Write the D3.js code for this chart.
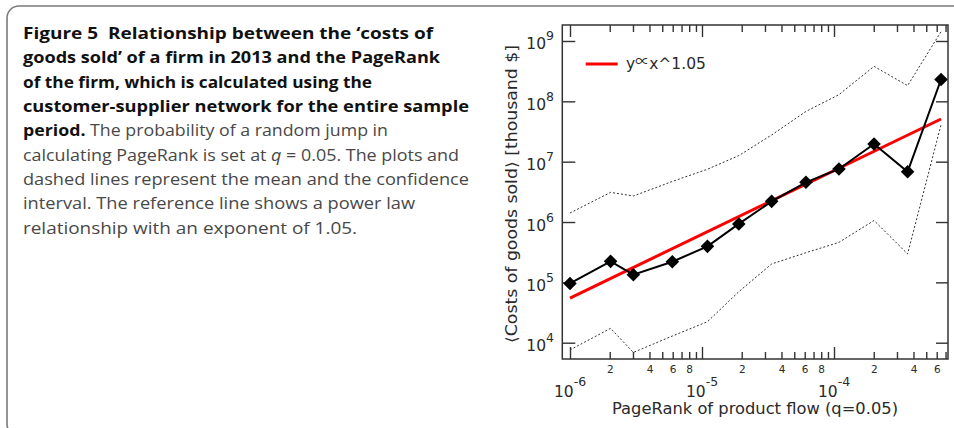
<!DOCTYPE html>
<html>
<head>
<meta charset="utf-8">
<script src="https://cdn.jsdelivr.net/npm/d3@7"></script>
<style>
  html, body { margin: 0; padding: 0; background: #fff; }
  svg { display: block; }
  .cap { font-family: "Open Sans", sans-serif; font-size: 16px; }
  .chart text { font-family: "DejaVu Sans", sans-serif; fill: #2a2a2a; }
</style>
</head>
<body>
<div id="grafico"></div>
<script>
// values
const pageRank = [1.0e-6, 2.03e-6, 3.02e-6, 5.96e-6, 1.1e-5, 1.9e-5, 3.37e-5, 6.13e-5, 1.09e-4, 2.01e-4, 3.61e-4, 6.47e-4];
const meanCost = [0.96e5, 2.23e5, 1.34e5, 2.2e5, 3.95e5, 9.3e5, 2.2e6, 4.55e6, 7.57e6, 1.96e7, 6.8e6, 2.3e8];
const upperCost = [1.41e6, 3.1e6, 2.7e6, 4.7e6, 7.5e6, 1.26e7, 2.77e7, 6.8e7, 1.29e8, 3.8e8, 1.82e8, 1.43e9];
const lowerCost = [7.6e3, 1.73e4, 6.9e3, 1.29e4, 2.23e4, 7.0e4, 2.02e5, 3.1e5, 4.6e5, 1.06e6, 2.96e5, 4.1e7];
const refX = [1.0e-6, 6.47e-4];
const refY = [5.5e4, 5.1e7];
const xDecades = [-6, -5, -4];
const yDecades = [4, 5, 6, 7, 8, 9];
const xMinorLabels = [2, 4, 6, 8];
const legendText = ["y", "\u221D", "x^1.05"];
const xTitle = "PageRank of product flow (q=0.05)";
const yTitle = "\u27E8Costs of goods sold\u27E9 [thousand $]";

const captionLines = [
  [["b", "Figure 5\u00A0 Relationship between the \u2018costs of"]],
  [["b", "goods sold\u2019 of a firm in 2013 and the PageRank"]],
  [["b", "of the firm, which is calculated using the"]],
  [["b", "customer-supplier network for the entire sample"]],
  [["b", "period."], ["r", " The probability of a random jump in"]],
  [["r", "calculating PageRank is set at "], ["i", "q"], ["r", " = 0.05. The plots and"]],
  [["r", "dashed lines represent the mean and the confidence"]],
  [["r", "interval. The reference line shows a power law"]],
  [["r", "relationship with an exponent of 1.05."]]
];
const captionWidths = [410, 417, 349, 446, 365, 436, 446, 392, 334];

const W = 954, H = 428;
const svg = d3.select("#grafico").append("svg").attr("width", W).attr("height", H);

// frame
svg.append("path")
  .attr("d", "M954,6 H19 A12,12 0 0 0 7,18 V424 A12,12 0 0 0 19,436")
  .attr("fill", "none").attr("stroke", "#7a7a7a").attr("stroke-width", 1.6);

// caption
captionLines.forEach((line, i) => {
  const t = svg.append("text").attr("class", "cap")
    .attr("x", 23).attr("y", 39 + i * 24.35)
    .attr("textLength", captionWidths[i]).attr("lengthAdjust", "spacingAndGlyphs");
  line.forEach(([k, s]) => {
    t.append("tspan").text(s)
      .attr("font-weight", k === "b" ? 700 : 400)
      .attr("font-style", k === "i" ? "italic" : "normal")
      .attr("fill", k === "b" ? "#111" : "#484848");
  });
});

// chart
const pLeft = 562.3, pRight = 948, pTop = 25, pBottom = 359;
const x = d3.scaleLog().domain([Math.pow(10, -6.0583), Math.pow(10, -3.1364)]).range([pLeft, pRight]);
const y = d3.scaleLog().domain([Math.pow(10, 3.730), Math.pow(10, 9.265)]).range([pBottom, pTop]);

const g = svg.append("g").attr("class", "chart");

let majorX = xDecades.map(e => Math.pow(10, e));
let minorX = [];
xDecades.forEach(e => { for (let m = 2; m <= 9; m++) { const v = m * Math.pow(10, e); if (v <= x.domain()[1]) minorX.push(v); } });
let majorY = yDecades.map(e => Math.pow(10, e));

const styleAxis = sel => {
  sel.select(".domain").remove();
  sel.selectAll(".tick line").attr("stroke", "#333").attr("stroke-width", 1.4);
};

// bottom
g.append("g").attr("transform", `translate(0,${pBottom})`)
  .call(d3.axisBottom(x).tickValues(minorX).tickSize(-7).tickPadding(7)
    .tickFormat(d => { const m = Math.round(d / Math.pow(10, Math.floor(Math.log10(d) + 1e-9))); return xMinorLabels.includes(m) ? m : ""; }))
  .call(styleAxis)
  .call(s => s.selectAll("text").attr("font-size", 10.5).attr("fill", "#2a2a2a").attr("font-family", "DejaVu Sans"));
g.append("g").attr("transform", `translate(0,${pBottom})`)
  .call(d3.axisBottom(x).tickValues(majorX).tickSize(-12).tickFormat(""))
  .call(styleAxis);
// top
g.append("g").attr("transform", `translate(0,${pTop})`)
  .call(d3.axisTop(x).tickValues(minorX).tickSize(-7).tickFormat(""))
  .call(styleAxis);
g.append("g").attr("transform", `translate(0,${pTop})`)
  .call(d3.axisTop(x).tickValues(majorX).tickSize(-12).tickFormat(""))
  .call(styleAxis);
// left / right
g.append("g").attr("transform", `translate(${pLeft},0)`)
  .call(d3.axisLeft(y).tickValues(majorY).tickSize(-13).tickFormat(""))
  .call(styleAxis);
g.append("g").attr("transform", `translate(${pRight},0)`)
  .call(d3.axisRight(y).tickValues(majorY).tickSize(-12).tickFormat(""))
  .call(styleAxis);

// frame of plot
g.append("rect").attr("x", pLeft).attr("y", pTop).attr("width", pRight - pLeft).attr("height", pBottom - pTop)
  .attr("fill", "none").attr("stroke", "#333").attr("stroke-width", 1.5);

// major labels
xDecades.forEach(e => {
  const t = g.append("text").attr("x", x(Math.pow(10, e))).attr("y", 396.5)
    .attr("text-anchor", "middle").attr("font-size", 15.5);
  t.append("tspan").text("10");
  t.append("tspan").text("-" + Math.abs(e)).attr("font-size", 12.5).attr("dy", -10.5);
});
yDecades.forEach(e => {
  const t = g.append("text").attr("x", 554).attr("y", y(Math.pow(10, e)) + 8.5)
    .attr("text-anchor", "end").attr("font-size", 15.5);
  t.append("tspan").text("10");
  t.append("tspan").text(e).attr("font-size", 12.5).attr("dy", -9);
});

// axis titles
g.append("text").attr("x", 755).attr("y", 414).attr("text-anchor", "middle")
  .attr("font-size", 15.5).attr("textLength", 286).attr("lengthAdjust", "spacingAndGlyphs").text(xTitle);
g.append("text").attr("transform", "translate(516.5,194) rotate(-90)").attr("text-anchor", "middle")
  .attr("font-size", 15.5).attr("textLength", 298).attr("lengthAdjust", "spacingAndGlyphs").text(yTitle);

// dotted confidence lines
const line = d3.line().x(d => x(d[0])).y(d => y(d[1]));
[upperCost, lowerCost].forEach(arr => {
  g.append("path").datum(pageRank.map((p, i) => [p, arr[i]]))
    .attr("d", line).attr("fill", "none").attr("stroke", "#333")
    .attr("stroke-width", 1).attr("stroke-dasharray", "2,2");
});

// reference power law
g.append("path").datum(refX.map((p, i) => [p, refY[i]]))
  .attr("d", line).attr("fill", "none").attr("stroke", "#f00").attr("stroke-width", 3);

// mean
const pts = pageRank.map((p, i) => [p, meanCost[i]]);
g.append("path").datum(pts).attr("d", line).attr("fill", "none").attr("stroke", "#000").attr("stroke-width", 2);
g.selectAll(".pt").data(pts).enter().append("path").attr("class", "pt")
  .attr("d", d3.symbol(d3.symbolSquare, 92))
  .attr("transform", d => `translate(${x(d[0])},${y(d[1])}) rotate(45)`)
  .attr("fill", "#000");

// legend
g.append("line").attr("x1", 585.7).attr("x2", 617.7).attr("y1", 64).attr("y2", 64)
  .attr("stroke", "#f00").attr("stroke-width", 3);
const lt = g.append("text").attr("x", 626).attr("y", 68.5).attr("font-size", 15.5);
lt.append("tspan").text(legendText[0]);
lt.append("tspan").text(legendText[1]).attr("font-family", "Noto Sans CJK JP").attr("font-size", 14).attr("dy", -2.5);
lt.append("tspan").text(legendText[2]).attr("dy", 2.5);
</script>
</body>
</html>
